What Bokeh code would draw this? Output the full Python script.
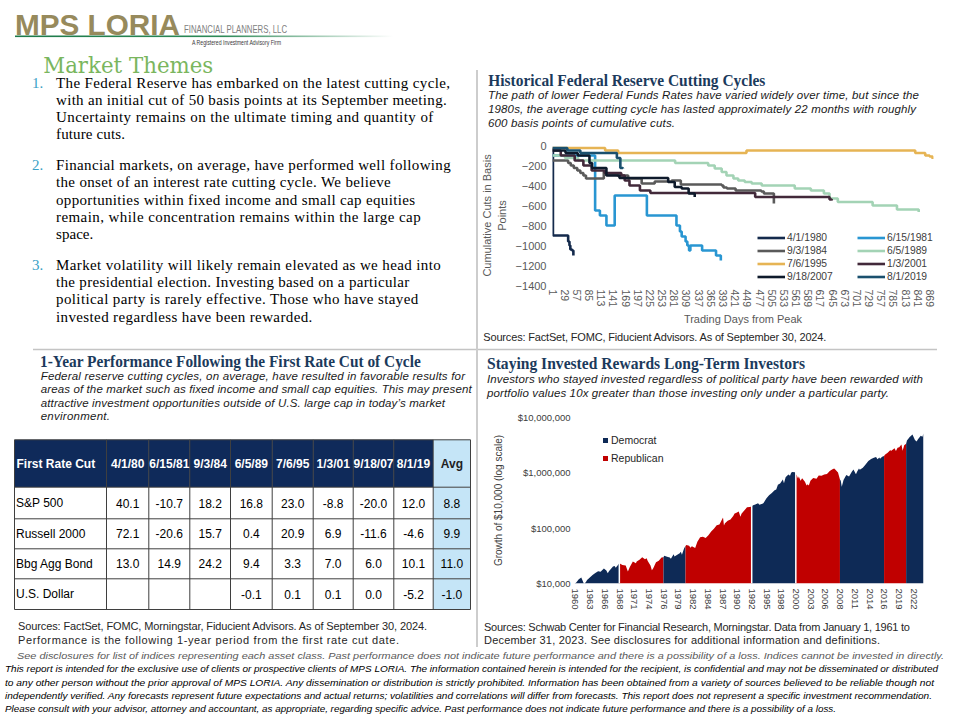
import html
from bokeh.plotting import figure
from bokeh.models import (Div, Range1d, FixedTicker, Legend, LegendItem, Span,
                          NumeralTickFormatter)
from bokeh.layouts import column, row
from bokeh.embed import file_html
from bokeh.resources import INLINE
from bokeh.core.properties import value

# ------------------------------------------------------------------ data
# Chart 1: cumulative cuts (bp) vs trading days from peak
cycle_labels = ["4/1/1980", "6/15/1981", "9/3/1984", "6/5/1989",
                "7/6/1995", "1/3/2001", "9/18/2007", "8/1/2019"]
days_1980 = [1, 2, 37, 40, 42, 46, 49]
cuts_1980 = [-25, -900, -960, -1000, -1040, -1050, -1100]
days_1981 = [1, 99, 110, 125, 144, 218, 286, 294, 298, 307, 311, 315, 318, 345, 377, 388]
cuts_1981 = [-100, -650, -700, -800, -500, -700, -800, -860, -910, -960, -1000, -1050, -1000, -1050, -1100, -1150]
days_1984 = [1, 37, 43, 50, 58, 65, 72, 78, 119, 122, 150, 175, 206, 236, 275, 296, 390, 394, 402, 422, 481, 487, 510]
cuts_1984 = [-150, -175, -200, -225, -250, -275, -300, -330, -260, -290, -300, -330, -380, -360, -350, -390, -400, -420, -430, -450, -460, -480, -580]
days_1989 = [1, 30, 60, 283, 359, 374, 390, 401, 417, 428, 443, 459, 482, 558, 595, 625, 638, 657, 737, 793, 843]
cuts_1989 = [-100, -125, -150, -175, -200, -230, -265, -300, -330, -350, -365, -380, -400, -430, -450, -480, -530, -565, -600, -640, -665]
days_1995 = [1, 122, 152, 447, 835, 858, 868, 875]
cuts_1995 = [-25, -50, -75, -50, -75, -100, -110, -135]
days_2001 = [1, 20, 52, 72, 91, 121, 159, 167, 178, 202, 226, 467, 638, 643]
cuts_2001 = [-50, -100, -150, -200, -250, -275, -300, -350, -400, -450, -475, -515, -540, -550]
days_2007 = [1, 31, 59, 86, 92, 125, 155, 267, 282, 298, 314, 328]
cuts_2007 = [-50, -75, -100, -175, -225, -300, -325, -365, -415, -430, -480, -515]
days_2019 = [1, 35, 65, 149, 157, 163]
cuts_2019 = [-25, -50, -75, -125, -225, -230]
cycle_colors = ["#142A4C", "#2996D2", "#5A5A5A", "#A3D3B5",
                "#E6B454", "#42293A", "#0E1A2B", "#1A506E"]
day_ticks = [1, 29, 57, 85, 113, 141, 169, 197, 225, 253, 281, 309, 337, 365, 393, 421,
             449, 477, 505, 533, 561, 589, 617, 645, 673, 701, 729, 757, 785, 813, 841, 869]
cut_ticks = [0, -200, -400, -600, -800, -1000, -1200, -1400]

# Table: 1-year performance following first rate cut
table_dates = ["4/1/80", "6/15/81", "9/3/84", "6/5/89", "7/6/95", "1/3/01", "9/18/07", "8/1/19"]
row_labels = ["S&P 500", "Russell 2000", "Bbg Agg Bond", "U.S. Dollar"]
sp500 = [40.1, -10.7, 18.2, 16.8, 23.0, -8.8, -20.0, 12.0]
russell2000 = [72.1, -20.6, 15.7, 0.4, 20.9, 6.9, -11.6, -4.6]
bbg_agg = [13.0, 14.9, 24.2, 9.4, 3.3, 7.0, 6.0, 10.1]
us_dollar = [None, None, None, -0.1, 0.1, 0.1, 0.0, -5.2]
avg_values = [8.8, 9.9, 11.0, -1.0]

# Chart 2: growth of $10,000 (log scale)
growth_years = [1960.72, 1961.0, 1961.5, 1961.95, 1962.45, 1962.8, 1963.0, 1963.5, 1964.0, 1964.5,
                1965.0, 1965.45, 1966.05, 1966.5, 1966.75, 1967.0, 1967.7, 1968.0, 1968.2, 1968.85,
                1969.4, 1970.0, 1970.4, 1970.75, 1971.0, 1971.3, 1971.85, 1972.0, 1972.5, 1973.0,
                1973.5, 1973.8, 1974.0, 1974.5, 1974.75, 1975.0, 1975.5, 1976.0, 1976.5, 1976.85,
                1977.0, 1977.5, 1978.0, 1978.2, 1978.7, 1978.85, 1979.0, 1979.5, 1979.8, 1980.0,
                1980.2, 1980.6, 1980.85, 1981.0, 1981.5, 1981.75, 1982.0, 1982.6, 1983.0, 1983.5,
                1984.0, 1984.5, 1985.0, 1985.5, 1986.0, 1986.5, 1987.0, 1987.65, 1987.82, 1988.0,
                1988.5, 1989.0, 1989.5, 1989.75, 1990.0, 1990.5, 1990.8, 1991.0, 1991.5, 1992.0,
                1992.5, 1992.85, 1993.0, 1993.5, 1994.0, 1994.25, 1994.9, 1995.0, 1995.5, 1996.0,
                1996.5, 1997.0, 1997.3, 1997.6, 1998.0, 1998.5, 1998.7, 1999.0, 1999.5, 1999.8,
                2000.0, 2000.2, 2000.7, 2000.85, 2001.0, 2001.25, 2001.4, 2001.7, 2002.0, 2002.5,
                2002.8, 2003.0, 2003.2, 2003.5, 2004.0, 2004.6, 2005.0, 2005.5, 2006.0, 2006.5,
                2007.0, 2007.5, 2007.8, 2008.0, 2008.5, 2008.85, 2009.0, 2009.18, 2009.5, 2010.0,
                2010.5, 2011.0, 2011.3, 2011.75, 2012.0, 2012.3, 2012.45, 2013.0, 2013.5, 2014.0,
                2014.5, 2015.0, 2015.4, 2015.65, 2016.0, 2016.12, 2016.5, 2016.85, 2017.0, 2017.5,
                2018.0, 2018.1, 2018.75, 2019.0, 2019.3, 2019.6, 2020.0, 2020.22, 2020.5, 2020.85,
                2021.0, 2021.5, 2022.0, 2022.45, 2022.75, 2023.0, 2023.5, 2023.8, 2024.0]
growth_values = [10000, 10300, 11900, 12800, 9800, 10600, 11600, 12900, 14200, 15500,
                 16600, 16300, 18700, 17200, 15300, 16800, 20200, 20800, 19300, 23300,
                 21500, 21100, 16500, 19800, 22000, 24900, 23300, 25100, 26900, 29900,
                 27300, 28500, 25500, 21200, 17300, 18800, 24200, 25700, 29600, 29900,
                 31800, 30400, 29600, 28100, 33800, 30600, 31500, 33900, 35100, 37300,
                 33200, 43500, 47800, 49400, 48100, 44300, 47000, 43600, 57000, 68800,
                 69800, 66300, 74200, 86600, 98100, 112500, 116300, 156000, 112000, 122400,
                 135500, 142900, 165500, 185000, 187900, 200500, 161000, 182100, 208000, 237600,
                 240500, 245500, 255700, 268500, 281500, 265000, 278500, 285200, 343500, 392400,
                 432500, 482700, 500500, 612000, 643900, 756000, 645000, 828000, 932000, 885000,
                 1001900, 1038000, 1021000, 932000, 910700, 792000, 858000, 722000, 802300, 688000,
                 592000, 625000, 588000, 722000, 804400, 782000, 892100, 884000, 935800, 952000,
                 1083700, 1162000, 1192000, 1143300, 1012000, 758000, 720300, 558000, 742000, 911100,
                 862000, 1048700, 1152000, 942000, 1070700, 1203000, 1132000, 1242000, 1418000, 1644400,
                 1772000, 1869600, 1932000, 1762000, 1895800, 1792000, 1962000, 2005000, 2123300, 2312000,
                 2586200, 2482000, 2792000, 2472400, 2852000, 2902000, 3251200, 2502000, 3152000, 3352000,
                 3849400, 4452000, 4954200, 3902000, 3702000, 4057500, 4702000, 4482000, 5124600]
term_bounds = [1960.72, 1968.85, 1976.85, 1980.85, 1992.85, 2000.85, 2008.85, 2016.85, 2020.85, 2024.0]
term_party = ["Democrat", "Republican", "Democrat", "Republican", "Democrat",
              "Republican", "Democrat", "Republican", "Democrat"]
party_colors = {"Democrat": "#0E2A56", "Republican": "#C00000"}
white_gap_years = [1968.85, 1992.85, 2000.85]
growth_ticks = [1960.9, 1963.57, 1966.23, 1968.9, 1971.57, 1974.23, 1976.9, 1979.57,
                1982.23, 1984.9, 1987.57, 1990.23, 1992.9, 1995.57, 1998.23, 2000.9,
                2003.57, 2006.23, 2008.9, 2011.57, 2014.23, 2016.9, 2019.57, 2022.23]
growth_tick_labels = ["1960", "1963", "1966", "1968", "1971", "1974", "1976", "1979",
                      "1982", "1984", "1987", "1990", "1992", "1995", "1998", "2000",
                      "2003", "2006", "2008", "2011", "2014", "2016", "2019", "2022"]
growth_value_ticks = [10000, 100000, 1000000, 10000000]

# ------------------------------------------------------------------ helpers
SANS = "'Liberation Sans', Arial, sans-serif"
SERIF = "'Liberation Serif', 'Times New Roman', serif"
DSERIF = "'DejaVu Serif', Georgia, serif"
NAVY_T = "#1B3A5C"


def T(x, y, s, size, fam=SANS, weight="normal", style="normal", fill="#000000",
      length=None, adjust="spacing"):
    css = (f"font-family:{fam};font-size:{size}px;font-weight:{weight};"
           f"font-style:{style};fill:{fill}")
    a = [f'x="{x}"', f'y="{y}"', f'style="{css}"']
    if length is not None:
        a += [f'textLength="{length}"', f'lengthAdjust="{adjust}"']
    return f'<text {" ".join(a)}>{html.escape(s, quote=False)}</text>'


def L(x1, y1, x2, y2, color="#C4C4C4", w=1.5):
    return f'<line x1="{x1}" y1="{y1}" x2="{x2}" y2="{y2}" stroke="{color}" stroke-width="{w}"/>'


def svg_div(w, h, body):
    txt = (f'<svg xmlns="http://www.w3.org/2000/svg" width="{w}" height="{h}" '
           f'style="overflow:visible;display:block">{body}</svg>')
    return Div(text=txt, width=w, height=h, margin=(0, 0, 0, 0),
               styles={"overflow": "visible", "padding": "0px"})


def no_align(p):
    try:
        p.frame_align = False
    except Exception:
        pass


# ------------------------------------------------------------------ top-left text block
tl = []
tl.append('<defs><linearGradient id="lg1" x1="0" x2="1" y1="0" y2="0">'
          '<stop offset="0" stop-color="#1D7A4A"/><stop offset="0.55" stop-color="#2E8A58"/>'
          '<stop offset="1" stop-color="#FFFFFF"/></linearGradient></defs>')
tl.append('<rect x="7" y="27.5" width="378" height="1.6" fill="url(#lg1)"/>')
tl.append(T(7, 27, "MPS LORIA", 30, SANS, "bold", fill="#978A5C", length=165,
            adjust="spacingAndGlyphs"))
tl.append(T(176, 25.3, "FINANCIAL PLANNERS, LLC", 10.5, SANS, fill="#808080", length=103,
            adjust="spacingAndGlyphs"))
tl.append(T(184, 37, "A Registered Investment Advisory Firm", 7, SANS, fill="#3A3A3A",
            length=89, adjust="spacingAndGlyphs"))
tl.append(T(35.3, 64.5, "Market Themes", 22.5, DSERIF, fill="#7AB65E", length=170,
            adjust="spacingAndGlyphs"))
themes = [
    ["The Federal Reserve has embarked on the latest cutting cycle,",
     "with an initial cut of 50 basis points at its September meeting.",
     "Uncertainty remains on the ultimate timing and quantity of",
     "future cuts."],
    ["Financial markets, on average, have performed well following",
     "the onset of an interest rate cutting cycle. We believe",
     "opportunities within fixed income and small cap equities",
     "remain, while concentration remains within the large cap",
     "space."],
    ["Market volatility will likely remain elevated as we head into",
     "the presidential election. Investing based on a particular",
     "political party is rarely effective. Those who have stayed",
     "invested regardless have been rewarded."],
]
theme_base = [[80.3, 97, 114.3, 131.3], [162, 179.3, 197, 214.3, 231.3],
              [262, 279.3, 296.3, 313.7]]
theme_right = [[450, 446.7, 433.3, 125], [450.7, 390.7, 415, 420.7, 93.3],
               [440.7, 409.3, 418.3, 312.3]]
for i, lines in enumerate(themes):
    tl.append(T(24, theme_base[i][0], f"{i + 1}.", 15, SERIF, fill="#3A9FC6"))
    for j, s in enumerate(lines):
        tl.append(T(48, theme_base[i][j], s, 15, SERIF, fill="#000000",
                    length=round(theme_right[i][j] - 56, 1)))
tl.append(L(25, 341.5, 468, 341.5))
tl_div = svg_div(468, 343, "".join(tl))

# ------------------------------------------------------------------ vertical separator
vline_div = svg_div(2, 639, L(1, 62, 1, 639, "#BDBDBD", 1.5))

# ------------------------------------------------------------------ top-right head
tr = [T(10.3, 78, "Historical Federal Reserve Cutting Cycles", 16, SERIF, "bold", fill=NAVY_T,
        length=277, adjust="spacingAndGlyphs")]
sub1 = ["The path of lower Federal Funds Rates have varied widely over time, but since the",
        "1980s, the average cutting cycle has lasted approximately 22 months with roughly",
        "600 basis points of cumulative cuts."]
for s, y, ln in zip(sub1, [91.3, 105.3, 118.7], [431, 428, 187]):
    tr.append(T(10, y, s, 11.5, SANS, style="italic", fill="#1A1A1A", length=ln))
tr_head = svg_div(474, 130, "".join(tr))

# ------------------------------------------------------------------ chart 1
p1 = figure(width=474, height=190, x_range=Range1d(1, 877), y_range=Range1d(-1400, 0),
            output_backend="svg", toolbar_location=None, margin=(0, 0, 0, 0),
            min_border_left=73, min_border_right=19, min_border_top=7, min_border_bottom=42)
no_align(p1)
p1.outline_line_color = None
p1.xgrid.visible = False
p1.ygrid.ticker = FixedTicker(ticks=[0])
p1.ygrid.grid_line_color = "#D9D9D9"
p1.ygrid.grid_line_width = 1
series = [(days_1980, cuts_1980), (days_1981, cuts_1981), (days_1984, cuts_1984),
          (days_1989, cuts_1989), (days_1995, cuts_1995), (days_2001, cuts_2001),
          (days_2007, cuts_2007), (days_2019, cuts_2019)]
rends = []
for (d, c), col in zip(series, cycle_colors):
    rends.append(p1.step(x=d, y=c, mode="after", line_color=col, line_width=2.6))
for ax in (p1.xaxis[0], p1.yaxis[0]):
    ax.axis_line_color = None
    ax.major_tick_line_color = None
    ax.minor_tick_line_color = None
    ax.major_tick_out = 0
    ax.major_tick_in = 0
    ax.minor_tick_out = 0
    ax.major_label_text_font = "Liberation Sans"
    ax.major_label_text_color = "#595959"
    ax.axis_label_text_font = "Liberation Sans"
    ax.axis_label_text_font_style = "normal"
    ax.axis_label_text_color = "#595959"
    ax.axis_label_text_font_size = "11px"
p1.xaxis.ticker = FixedTicker(ticks=day_ticks)
p1.xaxis.major_label_orientation = "vertical"
p1.xaxis.major_label_text_font_size = "10.5px"
p1.xaxis.major_label_standoff = 4
p1.xaxis.axis_label = "Trading Days from Peak"
p1.xaxis.axis_label_standoff = 3
p1.yaxis.ticker = FixedTicker(ticks=cut_ticks)
p1.yaxis.major_label_text_font_size = "11px"
p1.yaxis.major_label_standoff = 6
p1.yaxis.axis_label = "Cumulative Cuts in Basis\nPoints"
p1.yaxis.axis_label_standoff = 5
for idxs, loc in (((0, 2, 4, 6), (205, 2)), ((1, 3, 5, 7), (305, 2))):
    leg = Legend(items=[LegendItem(label=cycle_labels[i], renderers=[rends[i]]) for i in idxs],
                 location=loc, label_text_font="Liberation Sans", label_text_font_size="10.3px",
                 label_text_color="#404040", glyph_width=28, glyph_height=13, label_height=13,
                 label_standoff=2, spacing=0, padding=0, margin=0,
                 border_line_color=None, background_fill_alpha=0)
    p1.add_layout(leg)

tr_src = svg_div(474, 23, T(5.3, 13, "Sources: FactSet, FOMC,  Fiducient Advisors. As of September 30, 2024.",
                            11, SANS, fill="#262626", length=343) + L(0, 21.5, 459, 21.5))

# ------------------------------------------------------------------ bottom-left head + table
bl = [T(32, 16.3, "1-Year Performance Following the First Rate Cut of Cycle", 16, SERIF, "bold",
        fill=NAVY_T, length=380.7, adjust="spacingAndGlyphs")]
sub2 = ["Federal reserve cutting cycles, on average, have resulted in favorable results for",
        "areas of the market such as fixed income and small cap equities. This may present",
        "attractive investment opportunities outside of U.S. large cap in today\u2019s market",
        "environment."]
for s, y, ln in zip(sub2, [29, 42.3, 55.7, 69], [424.3, 431, 404.3, 69.3]):
    bl.append(T(32.7, y, s, 11.5, SANS, style="italic", fill="#1A1A1A", length=ln))
bl_head = svg_div(468, 86, "".join(bl))

col_edges = [6, 98, 140.3, 181.3, 222, 263.7, 304.7, 344.7, 385.3, 424.7, 462]
row_edges = [2.3, 49.7, 81.3, 111.3, 141.3, 172]
pt = figure(width=468, height=174, x_range=Range1d(0, 468), y_range=Range1d(174, 0),
            output_backend="svg", toolbar_location=None, margin=(0, 0, 0, 0), min_border=0)
no_align(pt)
pt.axis.visible = False
pt.grid.visible = False
pt.outline_line_color = None
header = ["First Rate Cut"] + table_dates + ["Avg"]
body = [sp500 + [avg_values[0]], russell2000 + [avg_values[1]],
        bbg_agg + [avg_values[2]], us_dollar + [avg_values[3]]]
ql, qr, qt, qb, qc = [], [], [], [], []
for r in range(len(row_labels) + 1):
    for c in range(len(header)):
        ql.append(col_edges[c]); qr.append(col_edges[c + 1])
        qt.append(row_edges[r]); qb.append(row_edges[r + 1])
        if c == len(header) - 1:
            qc.append("#C5E5F7")
        elif r == 0:
            qc.append("#0F2A5A")
        else:
            qc.append("#FFFFFF")
pt.quad(left=ql, right=qr, top=qt, bottom=qb, fill_color=qc, line_color=None)
xs = [[col_edges[0], col_edges[-1]] for _ in row_edges] + [[x, x] for x in col_edges]
ys = [[y, y] for y in row_edges] + [[row_edges[0], row_edges[-1]] for _ in col_edges]
pt.multi_line(xs=xs, ys=ys, line_color="#3F3F3F", line_width=1)
centers = [(col_edges[c] + col_edges[c + 1]) / 2 for c in range(len(header))]
rmid = [(row_edges[r] + row_edges[r + 1]) / 2 for r in range(len(row_edges) - 1)]
pt.text(x=[col_edges[0] + 2], y=[rmid[0]], text=[header[0]], text_align="left",
        text_baseline="middle", text_font=value("Liberation Sans"), text_font_style="bold",
        text_font_size="12px", text_color="#FFFFFF")
pt.text(x=centers[1:-1], y=[rmid[0]] * len(table_dates), text=table_dates, text_align="center",
        text_baseline="middle", text_font=value("Liberation Sans"), text_font_style="bold",
        text_font_size="12px", text_color="#FFFFFF")
pt.text(x=[centers[-1]], y=[rmid[0]], text=[header[-1]], text_align="center",
        text_baseline="middle", text_font=value("Liberation Sans"), text_font_style="bold",
        text_font_size="12px", text_color="#1F1F1F")
pt.text(x=[col_edges[0] + 1.5] * len(row_labels), y=rmid[1:], text=row_labels, text_align="left",
        text_baseline="middle", text_font=value("Liberation Sans"), text_font_size="12px",
        text_color="#000000")
tx, ty, tt = [], [], []
for r, vals in enumerate(body):
    for c, v in enumerate(vals):
        if v is None:
            continue
        tx.append(centers[c + 1]); ty.append(rmid[r + 1]); tt.append(f"{v:.1f}")
pt.text(x=tx, y=ty, text=tt, text_align="center", text_baseline="middle",
        text_font=value("Liberation Sans"), text_font_size="12px", text_color="#000000")

bl_src = svg_div(468, 36,
                 T(10, 19, "Sources: FactSet, FOMC,  Morningstar, Fiducient  Advisors. As of September 30, 2024.",
                   11, SANS, fill="#262626", length=409) +
                 T(10, 33, "Performance is the following 1-year period from the first rate cut date.",
                   11, SANS, fill="#262626", length=381))

# ------------------------------------------------------------------ bottom-right head + chart 2
br = [T(9, 18.3, "Staying Invested Rewards Long-Term Investors", 16, SERIF, "bold", fill=NAVY_T,
        length=318, adjust="spacingAndGlyphs")]
sub3 = ["Investors who stayed invested regardless of political party have been rewarded with",
        "portfolio values 10x greater than those investing only under a particular party."]
for s, y, ln in zip(sub3, [31.7, 45.7], [436, 402]):
    br.append(T(9, y, s, 11.5, SANS, style="italic", fill="#1A1A1A", length=ln))
br_head = svg_div(474, 54, "".join(br))

p2 = figure(width=474, height=214, x_range=Range1d(1960.72, 2024.0),
            y_range=Range1d(10000, 10000000), y_axis_type="log",
            output_backend="svg", toolbar_location=None, margin=(0, 0, 0, 0),
            min_border_left=96, min_border_right=29, min_border_top=12, min_border_bottom=36)
no_align(p2)
p2.outline_line_color = None
p2.grid.visible = False
for i, party in enumerate(term_party):
    lo, hi = term_bounds[i], term_bounds[i + 1]
    seg = [(x, v) for x, v in zip(growth_years, growth_values) if lo <= x <= hi]
    sx = [s[0] for s in seg]
    sy = [s[1] for s in seg]
    p2.varea(x=sx, y1=[10000] * len(sx), y2=sy, fill_color=party_colors[party],
             legend_label=party)
for gx in white_gap_years:
    p2.add_layout(Span(location=gx, dimension="height", line_color="#FFFFFF", line_width=1.5))
for ax in (p2.xaxis[0], p2.yaxis[0]):
    ax.axis_line_color = None
    ax.major_tick_line_color = None
    ax.minor_tick_line_color = None
    ax.major_tick_out = 0
    ax.major_tick_in = 0
    ax.minor_tick_out = 0
    ax.major_label_text_font = "Liberation Sans"
    ax.major_label_text_color = "#404040"
    ax.major_label_text_font_size = "9.5px"
    ax.axis_label_text_font = "Liberation Sans"
    ax.axis_label_text_font_style = "normal"
    ax.axis_label_text_color = "#404040"
    ax.axis_label_text_font_size = "10px"
p2.xaxis.ticker = FixedTicker(ticks=growth_ticks)
p2.xaxis.major_label_overrides = {t: s for t, s in zip(growth_ticks, growth_tick_labels)}
p2.xaxis.major_label_orientation = "vertical"
p2.xaxis.major_label_standoff = 5
p2.yaxis.ticker = FixedTicker(ticks=growth_value_ticks)
p2.yaxis.formatter = NumeralTickFormatter(format="$0,0")
p2.yaxis.major_label_standoff = 4
p2.yaxis.axis_label = "Growth of $10,000 (log scale)"
p2.yaxis.axis_label_standoff = 11
p2.legend.location = (28, 116)
p2.legend.label_text_font = "Liberation Sans"
p2.legend.label_text_font_size = "10.5px"
p2.legend.label_text_color = "#262626"
p2.legend.glyph_width = 6
p2.legend.glyph_height = 6
p2.legend.label_height = 18
p2.legend.label_standoff = 3
p2.legend.spacing = 0
p2.legend.padding = 0
p2.legend.margin = 0
p2.legend.border_line_color = None
p2.legend.background_fill_alpha = 0

br_src = svg_div(474, 28,
                 T(6, 12, "Sources: Schwab Center for Financial Research, Morningstar. Data  from January 1, 1961 to",
                   11, SANS, fill="#262626", length=426) +
                 T(6, 25, "December 31, 2023. See disclosures for additional information and definitions.",
                   11, SANS, fill="#262626", length=396))

# ------------------------------------------------------------------ footer
foot_lines = [
    "See disclosures for list of indices representing each asset class. Past performance does not indicate future performance and there is a possibility of a loss. Indices cannot be invested in directly.",
    "This report is intended for the exclusive use of clients or prospective clients of MPS LORIA. The information contained herein is intended for the recipient, is confidential and may not be disseminated or distributed",
    "to any other person without the prior approval of MPS LORIA. Any dissemination or distribution is strictly prohibited. Information has been obtained from a variety of sources believed to be reliable though not",
    "independently verified. Any forecasts represent future expectations and actual returns; volatilities and correlations will differ from forecasts. This report does not represent a specific investment recommendation.",
    "Please consult with your advisor, attorney and accountant, as appropriate, regarding specific advice. Past performance does not indicate future performance and there is a possibility of a loss.",
]
foot_x = [17, 5, 5, 5, 5]
foot_y = [12, 25, 38.5, 52, 65]
foot_len = [927, 933, 929, 927, 831]
foot_fill = ["#595959", "#000000", "#000000", "#000000", "#000000"]
ft = "".join(T(x, y, s, 9.8, SANS, style="italic", fill=f, length=ln, adjust="spacingAndGlyphs")
             for s, x, y, ln, f in zip(foot_lines, foot_x, foot_y, foot_len, foot_fill))
footer = svg_div(952, 65, ft)

# ------------------------------------------------------------------ layout
left_col = column(tl_div, bl_head, pt, bl_src, spacing=0, margin=(0, 0, 0, 0))
right_col = column(tr_head, p1, tr_src, br_head, p2, br_src, spacing=0, margin=(0, 0, 0, 0))
top = row(left_col, vline_div, right_col, spacing=0, margin=(0, 0, 0, 8))
page = column(top, footer, spacing=0, margin=(8, 0, 0, 0))

with open("out.html", "w", encoding="utf-8") as f:
    f.write(file_html(page, INLINE, title="Market Themes"))
